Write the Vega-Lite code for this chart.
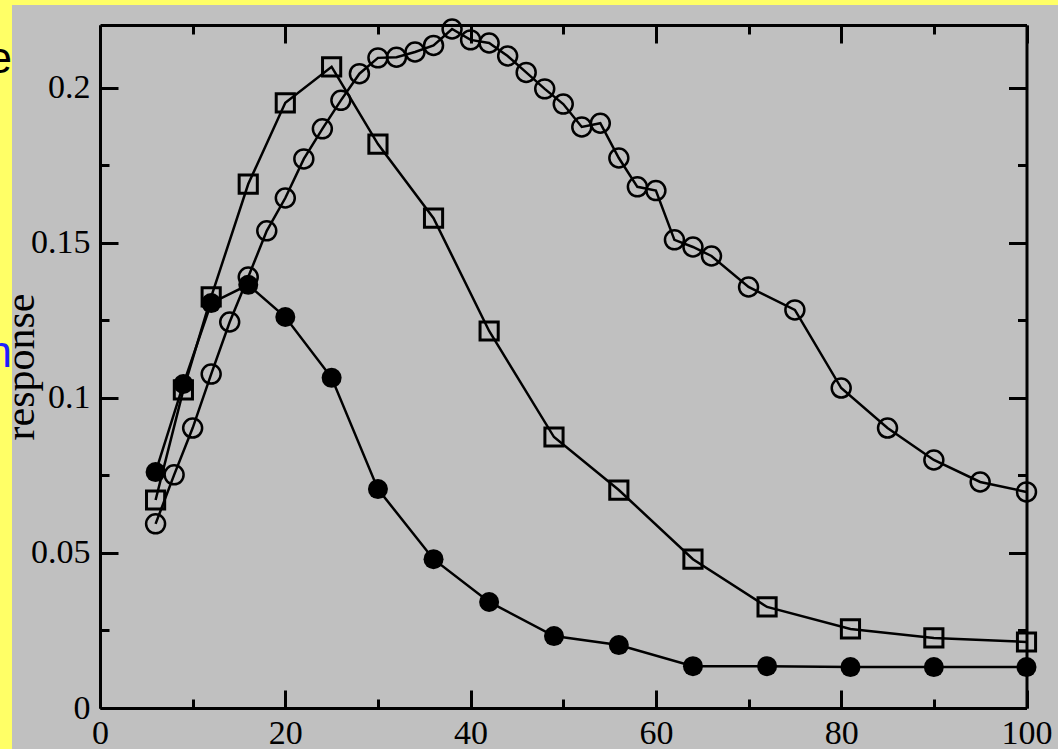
{
  "$schema": "https://vega.github.io/schema/vega-lite/v6.json",
  "width": 1046,
  "height": 744,
  "autosize": "none",
  "padding": {"left": 12, "top": 5, "right": 0, "bottom": 0},
  "background": "#ffff66",
  "title": {
    "text": "e",
    "subtitle": "n",
    "orient": "top",
    "anchor": "start",
    "frame": "group",
    "align": "right",
    "baseline": "alphabetic",
    "font": "Liberation Sans",
    "fontSize": 44,
    "fontWeight": "normal",
    "color": "black",
    "subtitleFont": "Liberation Sans",
    "subtitleFontSize": 44,
    "subtitleColor": "#1f1fff",
    "subtitlePadding": 250,
    "dy": 410
  },
  "config": {
    "view": {"fill": "#c0c0c0", "stroke": null},
    "axis": {
      "grid": false,
      "domainColor": "black",
      "domainWidth": 3,
      "tickColor": "black",
      "tickWidth": 3,
      "labelFont": "Liberation Serif",
      "labelFontSize": 34,
      "labelColor": "black",
      "titleFont": "Liberation Serif",
      "titleFontSize": 42,
      "titleFontWeight": "normal",
      "titleColor": "black",
      "labelOverlap": false,
      "labelFlush": false
    }
  },
  "data": {
    "values": [
      {"s": "filled", "x": 6, "y": 0.0761},
      {"s": "filled", "x": 9, "y": 0.1045},
      {"s": "filled", "x": 12, "y": 0.1306},
      {"s": "filled", "x": 16, "y": 0.1365},
      {"s": "filled", "x": 20, "y": 0.1261},
      {"s": "filled", "x": 25, "y": 0.1065},
      {"s": "filled", "x": 30, "y": 0.0706},
      {"s": "filled", "x": 36, "y": 0.048},
      {"s": "filled", "x": 42, "y": 0.0342},
      {"s": "filled", "x": 49, "y": 0.0232},
      {"s": "filled", "x": 56, "y": 0.0203},
      {"s": "filled", "x": 64, "y": 0.0135},
      {"s": "filled", "x": 72, "y": 0.0135},
      {"s": "filled", "x": 81, "y": 0.0132},
      {"s": "filled", "x": 90, "y": 0.0132},
      {"s": "filled", "x": 100, "y": 0.0132},
      {"s": "square", "x": 6, "y": 0.0671},
      {"s": "square", "x": 9, "y": 0.1026},
      {"s": "square", "x": 12, "y": 0.1326},
      {"s": "square", "x": 16, "y": 0.169},
      {"s": "square", "x": 20, "y": 0.1952},
      {"s": "square", "x": 25, "y": 0.2068},
      {"s": "square", "x": 30, "y": 0.1819},
      {"s": "square", "x": 36, "y": 0.158},
      {"s": "square", "x": 42, "y": 0.1216},
      {"s": "square", "x": 49, "y": 0.0874},
      {"s": "square", "x": 56, "y": 0.0703},
      {"s": "square", "x": 64, "y": 0.048},
      {"s": "square", "x": 72, "y": 0.0326},
      {"s": "square", "x": 81, "y": 0.0255},
      {"s": "square", "x": 90, "y": 0.0226},
      {"s": "square", "x": 100, "y": 0.0213},
      {"s": "open", "x": 6, "y": 0.0594},
      {"s": "open", "x": 8, "y": 0.0752},
      {"s": "open", "x": 10, "y": 0.0903},
      {"s": "open", "x": 12, "y": 0.1077},
      {"s": "open", "x": 14, "y": 0.1245},
      {"s": "open", "x": 16, "y": 0.139},
      {"s": "open", "x": 18, "y": 0.1539},
      {"s": "open", "x": 20, "y": 0.1645},
      {"s": "open", "x": 22, "y": 0.1771},
      {"s": "open", "x": 24, "y": 0.1868},
      {"s": "open", "x": 26, "y": 0.196},
      {"s": "open", "x": 28, "y": 0.2046},
      {"s": "open", "x": 30, "y": 0.2097},
      {"s": "open", "x": 32, "y": 0.2099},
      {"s": "open", "x": 34, "y": 0.2116},
      {"s": "open", "x": 36, "y": 0.2137},
      {"s": "open", "x": 38, "y": 0.219},
      {"s": "open", "x": 40, "y": 0.2155},
      {"s": "open", "x": 42, "y": 0.2145},
      {"s": "open", "x": 44, "y": 0.2103},
      {"s": "open", "x": 46, "y": 0.205},
      {"s": "open", "x": 48, "y": 0.1997},
      {"s": "open", "x": 50, "y": 0.1948},
      {"s": "open", "x": 52, "y": 0.1874},
      {"s": "open", "x": 54, "y": 0.1886},
      {"s": "open", "x": 56, "y": 0.1774},
      {"s": "open", "x": 58, "y": 0.1681},
      {"s": "open", "x": 60, "y": 0.1669},
      {"s": "open", "x": 62, "y": 0.151},
      {"s": "open", "x": 64, "y": 0.1487},
      {"s": "open", "x": 66, "y": 0.1458},
      {"s": "open", "x": 70, "y": 0.1358},
      {"s": "open", "x": 75, "y": 0.1284},
      {"s": "open", "x": 80, "y": 0.1032},
      {"s": "open", "x": 85, "y": 0.0903},
      {"s": "open", "x": 90, "y": 0.08},
      {"s": "open", "x": 95, "y": 0.0729},
      {"s": "open", "x": 100, "y": 0.0697}
    ]
  },
  "layer": [
    {
      "mark": {"type": "line", "color": "black", "strokeWidth": 2.5},
      "encoding": {
        "x": {
          "field": "x", "type": "quantitative",
          "scale": {"domain": [0, 100], "range": [88, 1014.5], "nice": false, "zero": false},
          "axis": {
            "orient": "bottom", "offset": -41, "title": null,
            "values": [0, 10, 20, 30, 40, 50, 60, 70, 80, 90, 100],
            "tickSize": {"condition": {"test": "datum.value % 20 === 0", "value": -18}, "value": -9},
            "labelExpr": "datum.value % 20 === 0 ? datum.label : ''",
            "labelBaseline": "alphabetic",
            "labelPadding": 53
          }
        },
        "y": {
          "field": "y", "type": "quantitative",
          "scale": {"domain": [0, 0.2203], "range": [703, 20], "nice": false, "zero": false},
          "axis": {
            "orient": "left", "offset": -88, "title": "response",
            "values": [0, 0.025, 0.05, 0.075, 0.1, 0.125, 0.15, 0.175, 0.2],
            "tickSize": {"condition": {"test": "round(datum.value * 40) % 2 === 0", "value": -18}, "value": -9},
            "labelExpr": "round(datum.value * 40) % 2 === 0 ? format(datum.value, '~g') : ''",
            "labelPadding": 28,
            "titleX": -67,
            "titleBaseline": "alphabetic",
            "titleAngle": 270
          }
        },
        "detail": {"field": "s", "type": "nominal"}
      }
    },
    {
      "transform": [{"filter": "datum.s === 'open'"}],
      "mark": {"type": "point", "shape": "circle", "filled": false, "color": "black", "size": 360, "strokeWidth": 2.5, "opacity": 1},
      "encoding": {
        "x": {
          "field": "x", "type": "quantitative",
          "scale": {"domain": [0, 100], "range": [88, 1014.5], "nice": false, "zero": false},
          "axis": {
            "orient": "top", "offset": -20, "title": null, "labels": false,
            "values": [0, 10, 20, 30, 40, 50, 60, 70, 80, 90, 100],
            "tickSize": {"condition": {"test": "datum.value % 20 === 0", "value": -18}, "value": -9}
          }
        },
        "y": {
          "field": "y", "type": "quantitative",
          "scale": {"domain": [0, 0.2203], "range": [703, 20], "nice": false, "zero": false},
          "axis": {
            "orient": "right", "offset": -31.5, "title": null, "labels": false,
            "values": [0, 0.025, 0.05, 0.075, 0.1, 0.125, 0.15, 0.175, 0.2],
            "tickSize": {"condition": {"test": "round(datum.value * 40) % 2 === 0", "value": -18}, "value": -9}
          }
        }
      }
    },
    {
      "transform": [{"filter": "datum.s === 'square'"}],
      "mark": {"type": "point", "shape": "square", "filled": false, "color": "black", "size": 330, "strokeWidth": 3, "opacity": 1},
      "encoding": {
        "x": {"field": "x", "type": "quantitative", "axis": null},
        "y": {"field": "y", "type": "quantitative", "axis": null}
      }
    },
    {
      "transform": [{"filter": "datum.s === 'filled'"}],
      "mark": {"type": "point", "shape": "circle", "filled": true, "color": "black", "size": 400, "opacity": 1},
      "encoding": {
        "x": {"field": "x", "type": "quantitative", "axis": null},
        "y": {"field": "y", "type": "quantitative", "axis": null}
      }
    }
  ],
  "resolve": {"axis": {"x": "independent", "y": "independent"}}
}
